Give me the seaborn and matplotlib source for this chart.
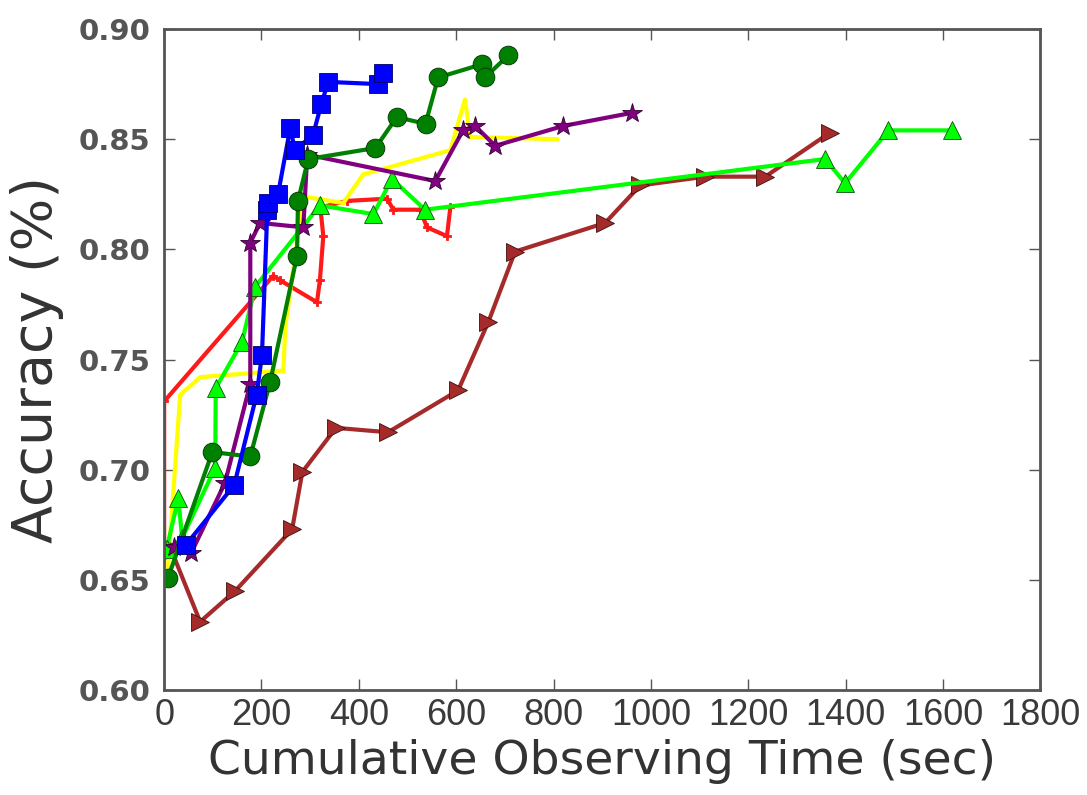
import seaborn as sns
import matplotlib.pyplot as plt

# data
blue_x = [45, 144, 190, 201, 212, 214, 234, 259, 269, 306, 323, 337, 440, 450]
blue_y = [0.666, 0.693, 0.734, 0.752, 0.818, 0.821, 0.825, 0.855, 0.845, 0.852, 0.866, 0.876, 0.875, 0.880]

dgreen_x = [8, 99, 177, 218, 273, 275, 296, 434, 478, 537, 563, 653, 659, 707]
dgreen_y = [0.651, 0.708, 0.706, 0.740, 0.797, 0.822, 0.841, 0.846, 0.860, 0.857, 0.878, 0.884, 0.878, 0.888]

purple_x = [20, 55, 125, 177, 177, 197, 286, 294, 557, 614, 639, 680, 820, 962]
purple_y = [0.665, 0.662, 0.694, 0.739, 0.803, 0.812, 0.810, 0.843, 0.831, 0.854, 0.856, 0.847, 0.856, 0.862]

red_x = [0, 0, 224, 238, 314, 320, 327, 321, 376, 458, 471, 526, 540, 581, 588]
red_y = [0.660, 0.731, 0.788, 0.786, 0.776, 0.786, 0.806, 0.819, 0.822, 0.823, 0.818, 0.818, 0.810, 0.806, 0.819]

yellow_x = [8, 33, 74, 245, 249, 286, 368, 409, 588, 618, 629, 807]
yellow_y = [0.656, 0.734, 0.742, 0.745, 0.765, 0.824, 0.821, 0.834, 0.845, 0.868, 0.851, 0.850]

lime_x = [5, 29, 37, 105, 106, 160, 187, 320, 430, 468, 536, 1358, 1399, 1488, 1619]
lime_y = [0.664, 0.687, 0.669, 0.701, 0.737, 0.758, 0.783, 0.820, 0.816, 0.832, 0.818, 0.841, 0.830, 0.854, 0.854]

brown_x = [12, 74, 146, 263, 284, 353, 460, 604, 666, 721, 906, 978, 1112, 1235, 1368]
brown_y = [0.665, 0.631, 0.645, 0.673, 0.699, 0.719, 0.717, 0.736, 0.767, 0.799, 0.812, 0.829, 0.833, 0.833, 0.853]

# x, y, colour, marker, marker size, marker edge
series = [
    (red_x, red_y, "#FF1A1A", "P", 6, "#FF1A1A"),
    (yellow_x, yellow_y, "#FFFF00", ".", 5, "#FFFF00"),
    (brown_x, brown_y, "#A52A2A", ">", 13, "#3a1010"),
    (lime_x, lime_y, "#00FF00", "^", 13, "#105010"),
    (purple_x, purple_y, "#800080", "*", 15, "#300030"),
    (dgreen_x, dgreen_y, "#008000", "o", 13.5, "#003000"),
    (blue_x, blue_y, "#0000FF", "s", 13, "#000060"),
]

sns.set_style("ticks")
fig = plt.figure(figsize=(10.87, 7.95), dpi=100)
ax = fig.add_axes([0.151, 0.132, 0.806, 0.8315])

for xs, ys, col, mk, ms, ec in series:
    sns.lineplot(x=xs, y=ys, sort=False, estimator=None, color=col, ax=ax,
                 marker=mk, markersize=ms, markeredgecolor=ec,
                 markeredgewidth=0.6, markerfacecolor=col, linewidth=3)

ax.set_xlim(0, 1800)
ax.set_ylim(0.60, 0.90)
ax.set_xticks(range(0, 1801, 200))
ax.set_yticks([0.60, 0.65, 0.70, 0.75, 0.80, 0.85, 0.90])
ax.set_yticklabels(["0.60", "0.65", "0.70", "0.75", "0.80", "0.85", "0.90"])

for s in ax.spines.values():
    s.set_color("#555555")
    s.set_linewidth(2)
ax.tick_params(direction="in", length=8, width=1, color="#555555",
               top=True, right=True)
ax.tick_params(axis="y", pad=10)
ax.tick_params(axis="x", pad=6)
for t in ax.get_yticklabels():
    t.set_fontsize(21)
    t.set_color("#555555")
    t.set_family("DejaVu Sans")
    t.set_weight("bold")
for t in ax.get_xticklabels():
    t.set_fontsize(26)
    t.set_color("#3a3a3a")
    t.set_family(["Liberation Sans", "DejaVu Sans"])

ax.set_xlabel("Cumulative Observing Time (sec)", fontsize=34, color="#333333", labelpad=4)
ax.set_ylabel("Accuracy (%)", fontsize=40, color="#333333", labelpad=10)

fig.savefig("out.png", dpi=100)
